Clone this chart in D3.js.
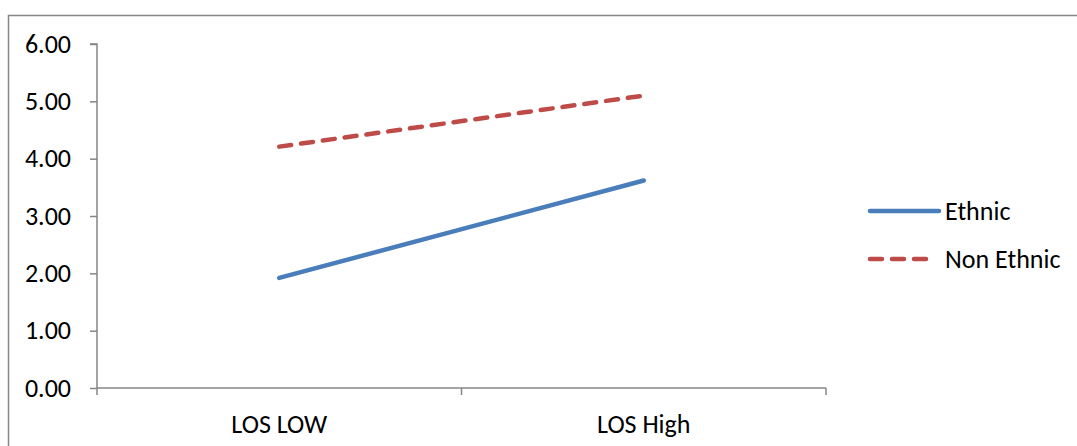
<!DOCTYPE html>
<html>
<head>
<meta charset="utf-8">
<script src="https://cdn.jsdelivr.net/npm/d3@7"></script>
<style>
body { margin: 0; background: #fff; }
svg text { font-family: Carlito, Lato, "Liberation Sans", sans-serif; font-size: 26px; fill: #000; }
.axis path, .axis line { stroke: #868686; stroke-width: 1.5px; }
</style>
</head>
<body>
<script>
// data
var categories = ["LOS LOW", "LOS High"];
var ethnic = [1.92, 3.62];
var nonEthnic = [4.21, 5.10];
var yTicks = [0, 1, 2, 3, 4, 5, 6];
var seriesNames = ["Ethnic", "Non Ethnic"];
var seriesColors = ["#4a7ebb", "#be4b48"];

var W = 1077, H = 446;
var margin = { top: 44, left: 97, right: 251, bottom: 58 };
var width = W - margin.left - margin.right;
var height = H - margin.top - margin.bottom;

var svg = d3.select("body").append("svg").attr("width", W).attr("height", H);

// outer chart frame
svg.append("path")
  .attr("d", "M8.5,446 V15.5 H1077")
  .attr("fill", "none").attr("stroke", "#868686").attr("stroke-width", 1.5);

var g = svg.append("g").attr("transform", "translate(" + margin.left + "," + margin.top + ")");

var x = d3.scaleBand().domain(categories).range([0, width]);
var y = d3.scaleLinear().domain([0, 6]).range([height, 0]);

// y axis
var yAxis = g.append("g").attr("class", "axis")
  .call(d3.axisLeft(y).tickValues(yTicks).tickSize(7).tickPadding(19).tickFormat(d3.format(".2f")));
yAxis.select(".domain").attr("d", "M0," + height + "V0H-7");
yAxis.attr("font-size", null).attr("font-family", null);

// x axis: ticks between categories, pointing down
var xAxis = g.append("g").attr("class", "axis").attr("transform", "translate(0," + height + ")");
xAxis.append("path").attr("d", "M0,0H" + width).attr("fill", "none");
xAxis.selectAll("line.tk").data([0, 1, 2]).enter().append("line")
  .attr("x1", function(d) { return d * x.bandwidth(); })
  .attr("x2", function(d) { return d * x.bandwidth(); })
  .attr("y1", 0).attr("y2", 7);
xAxis.selectAll("text").data(categories).enter().append("text")
  .attr("x", function(d) { return x(d) + x.bandwidth() / 2; })
  .attr("y", 45)
  .attr("text-anchor", "middle")
  .text(function(d) { return d; });

var line = d3.line()
  .x(function(d, i) { return x(categories[i]) + x.bandwidth() / 2; })
  .y(function(d) { return y(d); });

g.append("path").datum(ethnic)
  .attr("d", line).attr("fill", "none")
  .attr("stroke", seriesColors[0]).attr("stroke-width", 4.5).attr("stroke-linecap", "round");

g.append("path").datum(nonEthnic)
  .attr("d", line).attr("fill", "none")
  .attr("stroke", seriesColors[1]).attr("stroke-width", 4.5).attr("stroke-linecap", "round")
  .attr("stroke-dasharray", "12,10");

// legend
var legend = svg.append("g").attr("transform", "translate(870,211)");
seriesNames.forEach(function(name, i) {
  var row = legend.append("g").attr("transform", "translate(0," + i * 48 + ")");
  row.append("line").attr("x1", 0).attr("x2", i === 1 ? 60 : 69).attr("y1", 0).attr("y2", 0)
    .attr("stroke", seriesColors[i]).attr("stroke-width", 4.5).attr("stroke-linecap", "round")
    .attr("stroke-dasharray", i === 1 ? "12,10" : null);
  row.append("text").attr("x", 75).attr("y", 9).text(name);
});
</script>
</body>
</html>
